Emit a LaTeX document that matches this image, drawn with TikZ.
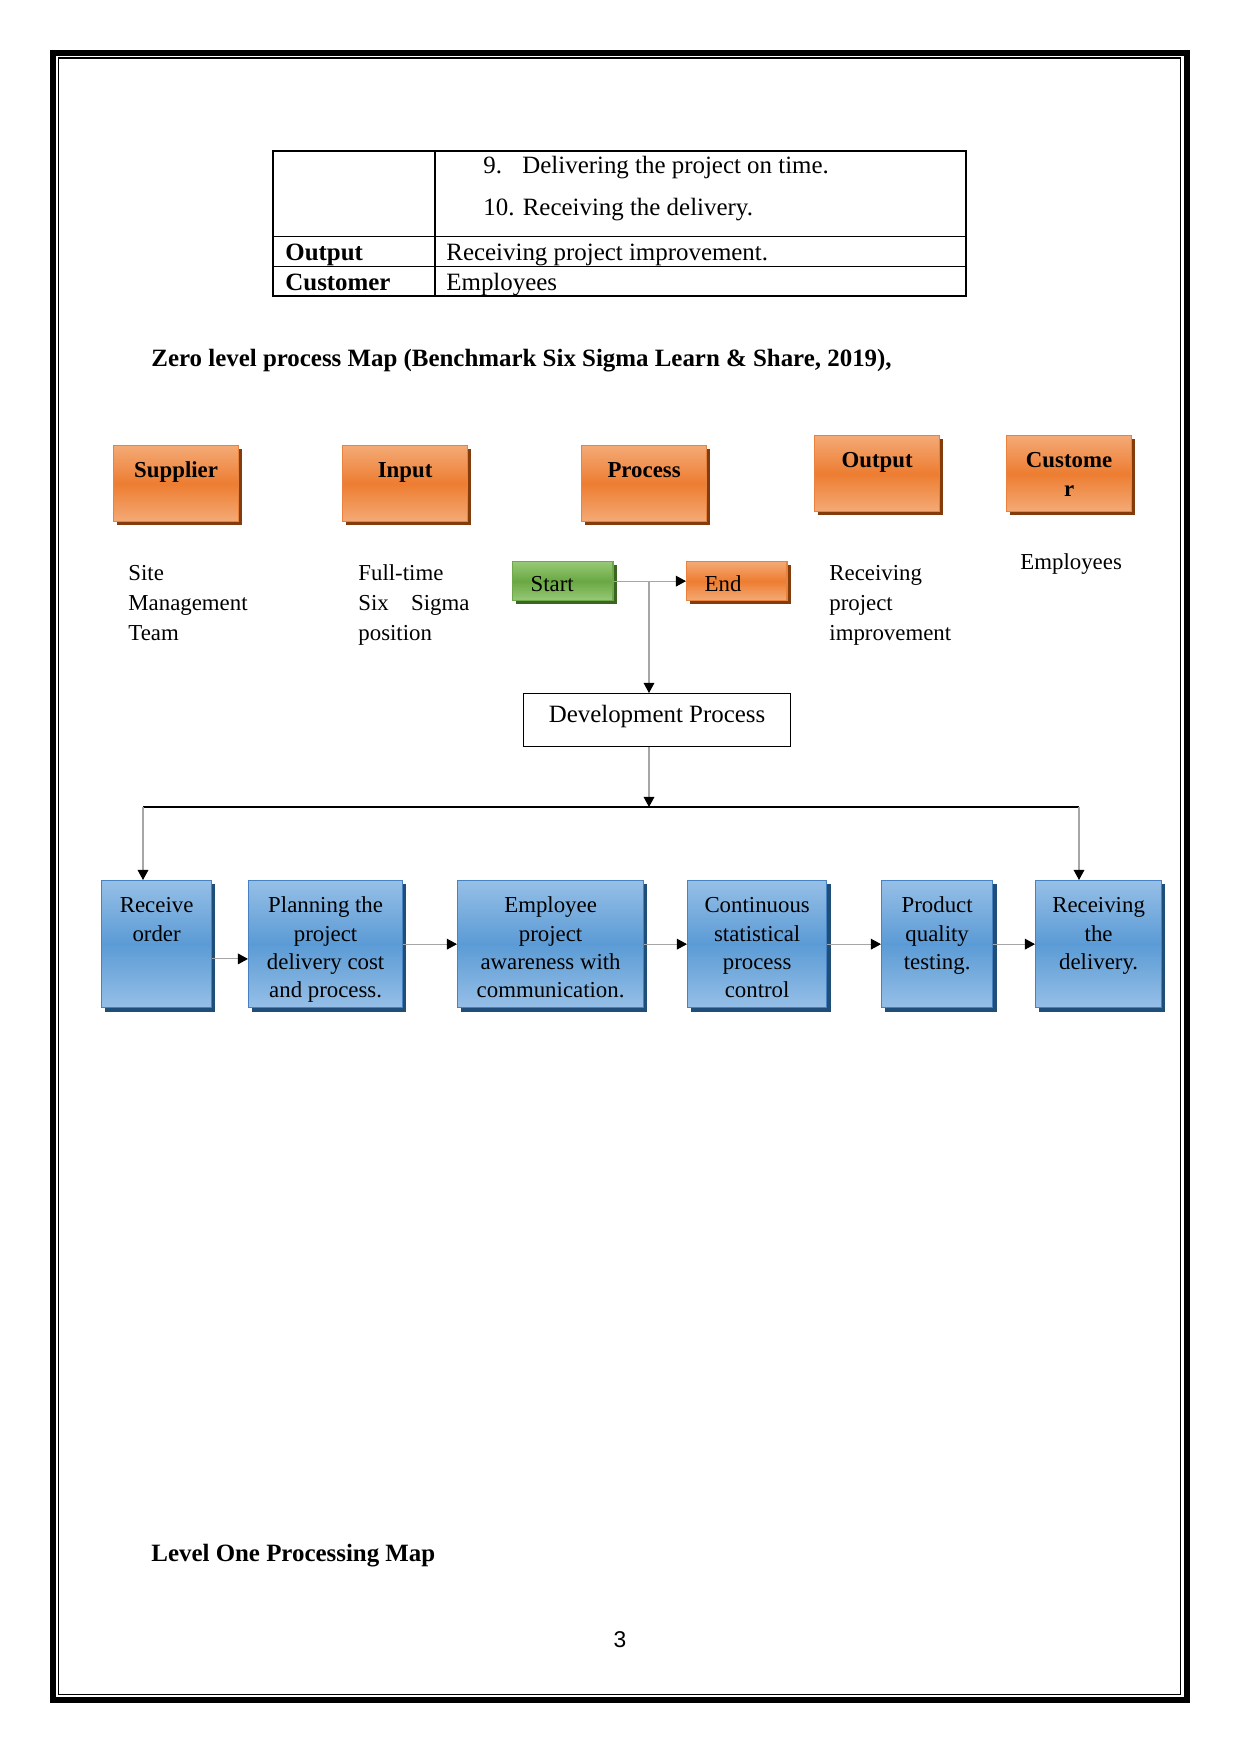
\documentclass[tikz,border=0pt,12pt]{standalone}
\usepackage{fontspec}
\setmainfont{Liberation Serif}
\newfontfamily\pagenofont{Liberation Sans}
\usetikzlibrary{arrows.meta,positioning,shadows}

\newcommand{\pxu}{0.16933mm}

\definecolor{orangemid}{HTML}{ED7D31}
\definecolor{orangelite}{HTML}{F4AA76}
\definecolor{orangeedge}{HTML}{E8833F}
\definecolor{orangedark}{HTML}{843C0C}
\definecolor{greenmid}{HTML}{6AA843}
\definecolor{greenlite}{HTML}{97C977}
\definecolor{greenedge}{HTML}{6FA84B}
\definecolor{greendark}{HTML}{3B6622}
\definecolor{bluemid}{HTML}{5B9BD5}
\definecolor{bluelite}{HTML}{96BFE7}
\definecolor{blueedge}{HTML}{4682C1}
\definecolor{bluedark}{HTML}{1F4E79}
\definecolor{linkgray}{HTML}{A6A6A6}

\tikzset{
  orangebox/.style={draw=orangeedge, line width=0.6pt,
    top color=orangelite, bottom color=orangelite, middle color=orangemid,
    general shadow={fill=orangedark, shadow xshift=0.65mm, shadow yshift=-0.65mm}},
  greenbox/.style={draw=greenedge, line width=0.6pt,
    top color=greenlite, bottom color=greenlite, middle color=greenmid,
    general shadow={fill=greendark, shadow xshift=0.65mm, shadow yshift=-0.65mm}},
  bluebox/.style={draw=blueedge, line width=0.6pt,
    top color=bluelite, bottom color=bluelite, middle color=bluemid,
    general shadow={fill=bluedark, shadow xshift=0.65mm, shadow yshift=-0.65mm}},
  headbox/.style={orangebox, anchor=north west, align=flush center,
    font=\fontsize{11pt}{13.7pt}\selectfont\bfseries,
    inner sep=0pt, text width=60.2pt, text height=15.4pt, text depth=21.2pt},
  stepbox/.style={bluebox, anchor=north west, align=flush center, inner sep=0pt,
    font=\fontsize{11pt}{13.7pt}\selectfont, text width=#1,
    text height=15.4pt, text depth=45.8pt},
  endbox/.style={anchor=north west, align=flush left, text width=31pt, inner xsep=8.7pt,
    inner ysep=0pt, text height=14.5pt, text depth=4.3pt, font=\fontsize{11pt}{13pt}\selectfont},
  sidetext/.style={anchor=base west, align=flush left, inner sep=0pt, text width=#1},
  sidetext/.default=16cm,
  maptext/.style={sidetext=4cm, font=\fontsize{11pt}{14.5pt}\selectfont},
  link/.style={draw=linkgray, line width=0.5pt,
    -{Triangle[length=1.7mm, width=1.8mm, color=black]}},
}

\begin{document}
\begin{tikzpicture}[x=\pxu, y=-\pxu]
    \useasboundingbox (0,0) rectangle (1241,1754);
    % page frame
    \draw[line width=2.9pt] (53,53) rectangle (1186.5,1700);
    \draw[line width=0.6pt] (58.5,58) rectangle (1180.5,1694.5);

    % table
    \draw[line width=0.5pt] (273,151) rectangle (966,296);
    \draw[line width=0.5pt] (435,151) -- (435,296);
    \draw[line width=0.5pt] (273,236.5) -- (966,236.5);
    \draw[line width=0.5pt] (273,266.5) -- (966,266.5);
    \node[sidetext] (item9) at (483,173) {9.};
    \node[sidetext] (item9text) at (522,173) {Delivering the project on time.};
    \node[sidetext] (item10) at (483,215) {10. Receiving the delivery.};
    \node[sidetext, font=\bfseries] (outlabel) at (285,260) {Output};
    \node[sidetext] (outvalue) at (446,260) {Receiving project improvement.};
    \node[sidetext, font=\bfseries] (custlabel) at (285,290) {Customer};
    \node[sidetext] (custvalue) at (446,290) {Employees};

    \node[sidetext, font=\bfseries] (zerotitle) at (151,366) {Zero level process Map (Benchmark Six Sigma Learn \& Share, 2019),};

    % zero level map
    \node[headbox] (supplier) at (113,445) {Supplier};
    \node[headbox] (input) at (342,445) {Input};
    \node[headbox] (process) at (581,445) {Process};
    \node[headbox] (output) at (814,435) {Output};
    \node[headbox] (customer) at (1006,435) {Custome\\r};

    \node[maptext] (suppliertext) at (128,580) {Site\\Management\\Team};
    \node[maptext] (inputtext) at (358,580) {Full-time\\\makebox[53.5pt][s]{Six Sigma}\\position};
    \node[maptext] (outputtext) at (829,580) {Receiving\\project\\improvement};
    \node[maptext] (customertext) at (1020,569) {Employees};

    \node[endbox, greenbox] (start) at (512,561) {Start};
    \node[endbox, orangebox] (end) at (686,561) {End};
    \node[draw, line width=0.5pt, anchor=north west, minimum width=267*\pxu, minimum height=53*\pxu,
      text height=8pt, text depth=5.3pt] (dev) at (523,693) {Development Process};

    \coordinate (split) at (start.east -| 649,0);
    \coordinate (busin) at (649,807);
    \coordinate (busleft) at (143,807);
    \coordinate (busright) at (1079,807);

    % level one steps
    \node[stepbox=53pt] (recv) at (101,880) {Receive\\order};
    \node[stepbox=74.2pt] (plan) at (248,880) {Planning the\\project\\delivery cost\\and process.};
    \node[stepbox=89.6pt] (aware) at (457,880) {Employee\\project\\awareness with\\communication.};
    \node[stepbox=67pt] (spc) at (687,880) {Continuous\\statistical\\process\\control};
    \node[stepbox=53.5pt] (test) at (881,880) {Product\\quality\\testing.};
    \node[stepbox=60.7pt] (deliv) at (1035,880) {Receiving\\the\\delivery.};

    \draw[link] (start) -- (end);
    \draw[link] (split) -- (split |- dev.north);
    \draw[link] (dev.south -| busin) -- (busin);
    \draw[line width=0.5pt] (busleft) -- (busright);
    \draw[link] (busleft) -- (busleft |- recv.north);
    \draw[link] (busright) -- (busright |- deliv.north);
    \draw[link] ([yshift=-2.5mm]recv.east) -- ([yshift=-2.5mm]plan.west);
    \draw[link] (plan) -- (aware);
    \draw[link] (aware) -- (spc);
    \draw[link] (spc) -- (test);
    \draw[link] (test) -- (deliv);

    \node[sidetext, font=\bfseries] (onetitle) at (151,1561) {Level One Processing Map};
    \node[font=\pagenofont\fontsize{11pt}{13pt}\selectfont] (pageno) at (620,1640) {3};
\end{tikzpicture}
\end{document}
